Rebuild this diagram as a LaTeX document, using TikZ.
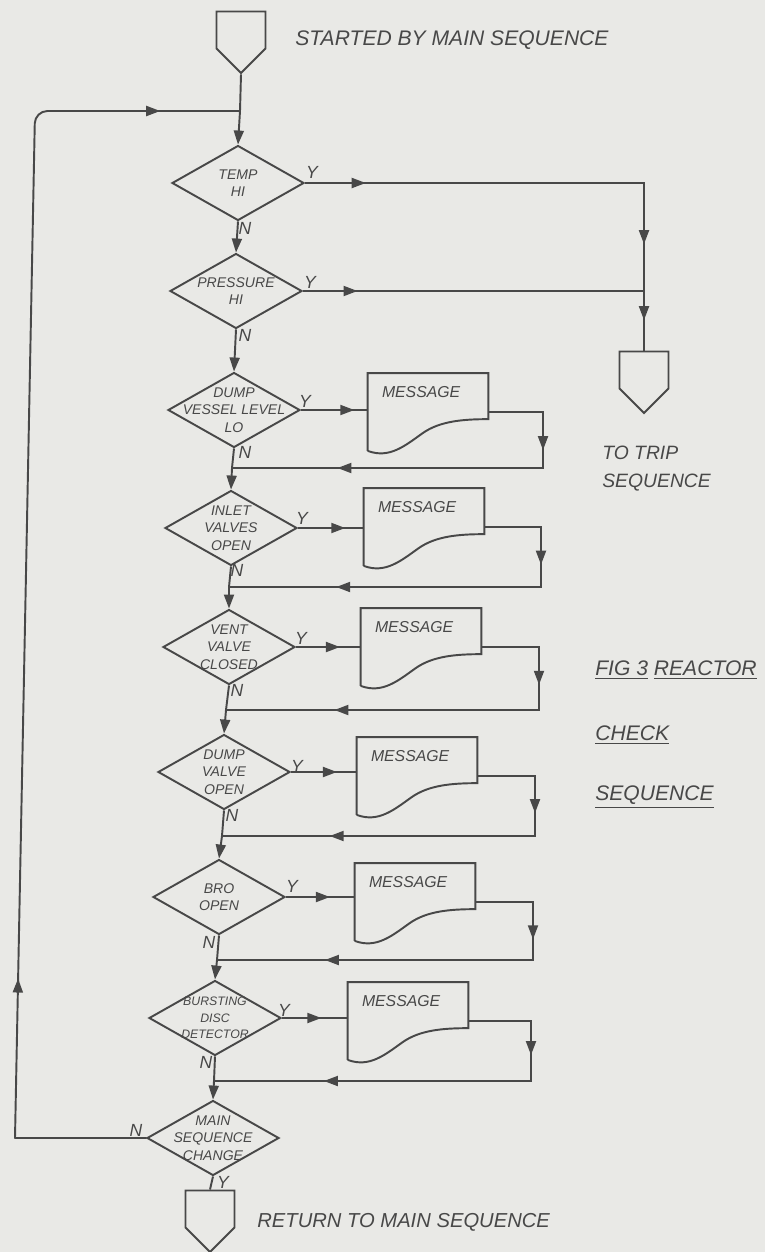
\documentclass[tikz,border=0pt]{standalone}
\usepackage{fontspec}
\setmainfont{Liberation Sans}
\usetikzlibrary{shapes.geometric, shapes.symbols, arrows.meta, decorations.markings}
\definecolor{paper}{RGB}{233,233,230}
\definecolor{ink}{RGB}{72,72,72}
\tikzset{
    decision/.style = {diamond, draw=ink, line width=1.1pt, minimum width=2.64cm, minimum height=1.5cm, inner sep=0pt},
    dtext/.style = {text=ink, font=\fontsize{8}{10}\selectfont\itshape, align=center, inner sep=0pt},
    message/.style = {rectangle, minimum width=2.4cm, minimum height=1.54cm, inner sep=0pt},
    mtext/.style = {text=ink, font=\fontsize{9}{10}\selectfont\itshape, anchor=west, inner sep=0pt},
    offpage/.style = {signal, signal to=south, signal pointer angle=90, draw=ink, line width=1.1pt, minimum width=0.98cm, minimum height=0.74cm, inner sep=0pt},
    yn/.style = {text=ink, font=\fontsize{10}{10}\selectfont\itshape, inner sep=0pt},
    remark/.style = {text=ink, font=\fontsize{12}{12}\selectfont\itshape, anchor=west, inner sep=0pt},
    flow/.style = {ink, line width=1.1pt},
    intop/.style = {-{Triangle[length=2.8mm, width=2mm]}},
    marrow/.style = {postaction={decorate, decoration={markings, mark=at position #1 with {\arrow{Triangle[length=2.8mm, width=2mm]}}}}}
}
% outline of a message (document) box round a message node
\newcommand{\drawmessage}[1]{%
  \draw[flow] (#1.south west) -- (#1.north west) -- (#1.north east) -- ([shift={(0,46)}]#1.north east)
    .. controls ([shift={(95,46)}]#1.north west) and ([shift={(72,48)}]#1.north west) .. ([shift={(55,60)}]#1.north west)
    .. controls ([shift={(38,72)}]#1.north west) and ([shift={(22,86)}]#1.north west) .. (#1.south west);}

\begin{document}
\begin{tikzpicture}[x=0.02cm, y=-0.02cm]
	\fill[paper] (0,0) rectangle (765,1252);
	\useasboundingbox (0,0) rectangle (765,1252);

	% connectors
	\node[offpage] (C1) at (241,30) {};
	\node[offpage] (C2) at (644,370) {};
	\node[offpage] (C3) at (210,1209) {};

	% decisions
	\node[decision] (D1) at (238,183) {} node[dtext] at (D1) {TEMP\\HI};
	\node[decision] (D2) at (236,291) {} node[dtext] at (D2) {PRESSURE\\HI};
	\node[decision] (D3) at (234,410) {} node[dtext] at (D3) {DUMP\\VESSEL LEVEL\\LO};
	\node[decision] (D4) at (231,528) {} node[dtext] at (D4) {INLET\\VALVES\\OPEN};
	\node[decision] (D5) at (229,647) {} node[dtext] at (D5) {VENT\\VALVE\\CLOSED};
	\node[decision] (D6) at (224,772) {} node[dtext] at (D6) {DUMP\\VALVE\\OPEN};
	\node[decision] (D7) at (219,897) {} node[dtext] at (D7) {BRO\\OPEN};
	\node[decision] (D8) at (215,1018) {} node[dtext, font=\fontsize{7}{9.5}\selectfont\itshape] at (D8) {BURSTING\\DISC\\DETECTOR};
	\node[decision] (D9) at (213,1138) {} node[dtext] at (D9) {MAIN\\SEQUENCE\\CHANGE};

	% messages
	\node[message] (M1) at (428,412) {};
	\node[message] (M2) at (424,527) {};
	\node[message] (M3) at (421,647) {};
	\node[message] (M4) at (417,776) {};
	\node[message] (M5) at (415,902) {};
	\node[message] (M6) at (408,1021) {};
	\drawmessage{M1}
	\drawmessage{M2}
	\drawmessage{M3}
	\drawmessage{M4}
	\drawmessage{M5}
	\drawmessage{M6}
	\node[mtext, xshift=0.28cm, yshift=-0.38cm] at (M1.north west) {MESSAGE};
	\node[mtext, xshift=0.28cm, yshift=-0.38cm] at (M2.north west) {MESSAGE};
	\node[mtext, xshift=0.28cm, yshift=-0.38cm] at (M3.north west) {MESSAGE};
	\node[mtext, xshift=0.28cm, yshift=-0.38cm] at (M4.north west) {MESSAGE};
	\node[mtext, xshift=0.28cm, yshift=-0.38cm] at (M5.north west) {MESSAGE};
	\node[mtext, xshift=0.28cm, yshift=-0.38cm] at (M6.north west) {MESSAGE};

	% junctions on the main line and return corners
	\coordinate (L0) at (240,111);
	\coordinate (L1) at (35,111);
	\coordinate (L2) at (15,1138);
	\coordinate (J1) at (232,468);
	\coordinate (J2) at (229,587);
	\coordinate (J3) at (226,710);
	\coordinate (J4) at (222,836);
	\coordinate (J5) at (217,960);
	\coordinate (J6) at (214,1081);
	\coordinate (R1) at (543,468);
	\coordinate (R2) at (541,587);
	\coordinate (R3) at (539,710);
	\coordinate (R4) at (535,836);
	\coordinate (R5) at (533,960);
	\coordinate (R6) at (531,1081);

	% main line
	\draw[flow] (C1.south) -- (L0);
	\draw[flow, intop] (L0) -- (D1.north);
	\draw[flow, intop] (D1.south) -- (D2.north);
	\draw[flow, intop] (D2.south) -- (D3.north);
	\draw[flow] (D3.south) -- (J1);
	\draw[flow, intop] (J1) -- (D4.north);
	\draw[flow] (D4.south) -- (J2);
	\draw[flow, intop] (J2) -- (D5.north);
	\draw[flow] (D5.south) -- (J3);
	\draw[flow, intop] (J3) -- (D6.north);
	\draw[flow] (D6.south) -- (J4);
	\draw[flow, intop] (J4) -- (D7.north);
	\draw[flow] (D7.south) -- (J5);
	\draw[flow, intop] (J5) -- (D8.north);
	\draw[flow] (D8.south) -- (J6);
	\draw[flow, intop] (J6) -- (D9.north);
	\draw[flow] (D9.south) -- (C3.north);

	% trip branch
	\draw[flow, marrow=0.12, marrow=0.79, marrow=0.94] (D1.east) -| (C2.north);
	\draw[flow, marrow=0.16] (D2.east) -- (D2.east -| C2.north);

	% message branches
	\draw[flow, marrow=0.8] (D3.east) -- (D3.east -| M1.west);
	\draw[flow, marrow=0.72] (D4.east) -- (D4.east -| M2.west);
	\draw[flow, marrow=0.68] (D5.east) -- (D5.east -| M3.west);
	\draw[flow, marrow=0.7] (D6.east) -- (D6.east -| M4.west);
	\draw[flow, marrow=0.64] (D7.east) -- (D7.east -| M5.west);
	\draw[flow, marrow=0.6] (D8.east) -- (D8.east -| M6.west);
	\draw[flow, marrow=0.22, marrow=0.75] (M1.east) -| (R1) -- (J1);
	\draw[flow, marrow=0.22, marrow=0.75] (M2.east) -| (R2) -- (J2);
	\draw[flow, marrow=0.22, marrow=0.75] (M3.east) -| (R3) -- (J3);
	\draw[flow, marrow=0.22, marrow=0.75] (M4.east) -| (R4) -- (J4);
	\draw[flow, marrow=0.22, marrow=0.75] (M5.east) -| (R5) -- (J5);
	\draw[flow, marrow=0.22, marrow=0.75] (M6.east) -| (R6) -- (J6);

	% loop back
	\draw[flow, line cap=round] (D9.west) -- (L2);
	\draw[flow, line cap=round, rounded corners=0.25cm, marrow=0.13, marrow=0.935] (L2) -- (L1) -- (L0);

	% Y and N
	\node[yn] (Y1) at (312,172) {Y};
	\node[yn] (N1) at (245,228) {N};
	\node[yn] (Y2) at (310,282) {Y};
	\node[yn] (N2) at (245,335) {N};
	\node[yn] (Y3) at (305,401) {Y};
	\node[yn] (N3) at (245,452) {N};
	\node[yn] (Y4) at (302,518) {Y};
	\node[yn] (N4) at (237,570) {N};
	\node[yn] (Y5) at (301,638) {Y};
	\node[yn] (N5) at (237,690) {N};
	\node[yn] (Y6) at (297,766) {Y};
	\node[yn] (N6) at (232,815) {N};
	\node[yn] (Y7) at (292,886) {Y};
	\node[yn] (N7) at (209,942) {N};
	\node[yn] (Y8) at (284,1010) {Y};
	\node[yn] (N8) at (206,1062) {N};
	\node[yn] (N9) at (136,1130) {N};
	\node[yn] (Y9) at (223,1182) {Y};

	% notes
	\node[remark] (T1) at (295,40) {STARTED BY MAIN SEQUENCE};
	\node[remark, font=\fontsize{11}{12}\selectfont\itshape] (T2) at (602,453) {TO TRIP};
	\node[remark, font=\fontsize{11}{12}\selectfont\itshape] (T3) at (602,483) {SEQUENCE};
	\node[remark] (T4) at (595,670) {\underline{FIG 3} \underline{REACTOR}};
	\node[remark] (T5) at (595,735) {\underline{CHECK}};
	\node[remark] (T6) at (595,797) {\underline{SEQUENCE}};
	\node[remark, font=\fontsize{11.5}{12}\selectfont\itshape] (T7) at (257,1222) {RETURN TO MAIN SEQUENCE};
\end{tikzpicture}
\end{document}
